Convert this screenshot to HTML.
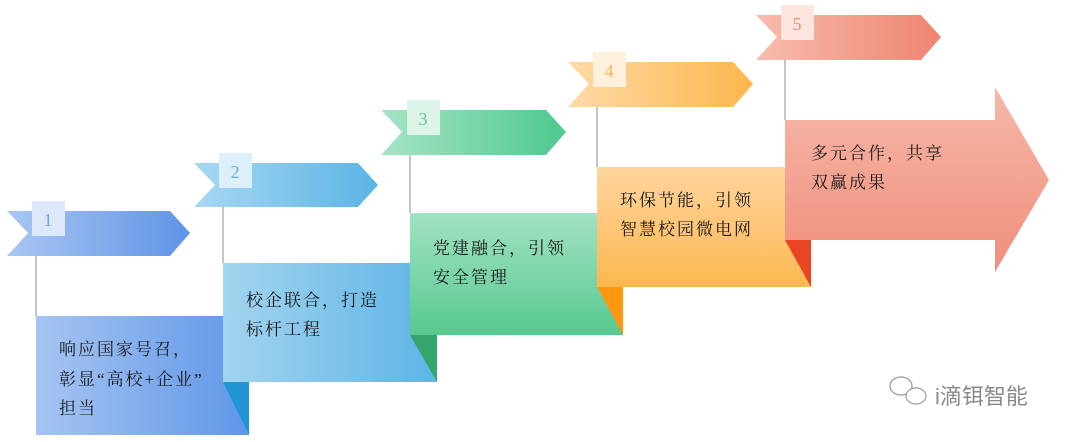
<!DOCTYPE html>
<html><head><meta charset="utf-8"><style>
html,body{margin:0;padding:0;background:#fff;}
svg{display:block}
.t{font-family:"Liberation Serif","Noto Serif CJK SC",serif;font-size:17px;letter-spacing:2px;fill:#1a1a1a;}
.n{font-family:"Liberation Serif","Noto Serif CJK SC",serif;font-size:18px;}
</style></head><body>
<svg width="1080" height="442" viewBox="0 0 1080 442" xmlns="http://www.w3.org/2000/svg">
<defs>
<linearGradient id="b1" x1="0" x2="1"><stop offset="0" stop-color="#aac6f3"/><stop offset="1" stop-color="#5e94e6"/></linearGradient>
<linearGradient id="b2" x1="0" x2="1"><stop offset="0" stop-color="#a8d8f1"/><stop offset="1" stop-color="#5ab4e6"/></linearGradient>
<linearGradient id="b3" x1="0" x2="1"><stop offset="0" stop-color="#a6e4c6"/><stop offset="1" stop-color="#4ec88e"/></linearGradient>
<linearGradient id="b4" x1="0" x2="1"><stop offset="0" stop-color="#fedaa6"/><stop offset="1" stop-color="#fdb64c"/></linearGradient>
<linearGradient id="b5" x1="0" x2="1"><stop offset="0" stop-color="#f8bcae"/><stop offset="1" stop-color="#ee8470"/></linearGradient>
<linearGradient id="g1" x1="0" x2="1"><stop offset="0" stop-color="#a6c4f2"/><stop offset="1" stop-color="#5f97e8"/></linearGradient>
<linearGradient id="g2" x1="0" x2="1"><stop offset="0" stop-color="#a2d4ef"/><stop offset="1" stop-color="#5fb4e6"/></linearGradient>
<linearGradient id="g3" x1="0" x2="0" y1="0" y2="1"><stop offset="0" stop-color="#a2e2c4"/><stop offset="1" stop-color="#58c98f"/></linearGradient>
<linearGradient id="g4" x1="0" x2="0" y1="0" y2="1"><stop offset="0" stop-color="#fed59e"/><stop offset="1" stop-color="#fdb750"/></linearGradient>
<linearGradient id="g5" x1="0" x2="0" y1="0" y2="1"><stop offset="0" stop-color="#f6b8a8"/><stop offset="1" stop-color="#f08e7c"/></linearGradient>
</defs>
<g stroke="#c4c4c4" stroke-width="2">
<line x1="36" y1="250" x2="36" y2="316"/>
<line x1="223" y1="200" x2="223" y2="263"/>
<line x1="410" y1="150" x2="410" y2="213"/>
<line x1="597" y1="100" x2="597" y2="167"/>
<line x1="785" y1="55" x2="785" y2="120"/>
</g>
<rect x="36" y="316" width="213" height="119" fill="url(#g1)"/>
<polygon points="223,382 249,382 249,435" fill="#2196d2"/>
<rect x="223" y="263" width="214" height="119" fill="url(#g2)"/>
<polygon points="410,335 437,335 437,382" fill="#36a46d"/>
<rect x="410" y="213" width="213" height="122" fill="url(#g3)"/>
<polygon points="597,287 623,287 623,335" fill="#ff9810"/>
<rect x="597" y="167" width="214" height="120" fill="url(#g4)"/>
<polygon points="785,240 811,240 811,287" fill="#e84622"/>
<polygon points="785,120 995,120 995,87 1049,180 995,272 995,240 785,240" fill="url(#g5)"/>
<polygon points="7,211 170,211 190,233 170,256 7,256 28,233" fill="url(#b1)"/>
<polygon points="194,163 358,163 378,185 358,207 194,207 215,185" fill="url(#b2)"/>
<polygon points="381,110 546,110 566,132 546,155 381,155 402,132" fill="url(#b3)"/>
<polygon points="568,62 733,62 753,84 733,107 568,107 589,84" fill="url(#b4)"/>
<polygon points="756,15 921,15 941,37 921,60 756,60 777,37" fill="url(#b5)"/>
<rect x="32" y="201" width="33" height="35" fill="#dde8fb"/>
<text x="48" y="226" text-anchor="middle" class="n" fill="#6f9fe6">1</text>
<rect x="219" y="153" width="33" height="35" fill="#ddf0fa"/>
<text x="235" y="178" text-anchor="middle" class="n" fill="#5fb3e2">2</text>
<rect x="407" y="100" width="33" height="35" fill="#dcf5e8"/>
<text x="423" y="125" text-anchor="middle" class="n" fill="#5ec892">3</text>
<rect x="593" y="52" width="33" height="35" fill="#fff0dc"/>
<text x="609" y="77" text-anchor="middle" class="n" fill="#f8b450">4</text>
<rect x="781" y="5" width="33" height="35" fill="#fde6e0"/>
<text x="797" y="30" text-anchor="middle" class="n" fill="#ee8a76">5</text>
<text class="t" x="59" y="355">响应国家号召，</text>
<text class="t" x="59" y="385">彰显“高校+企业”</text>
<text class="t" x="59" y="414">担当</text>
<text class="t" x="246" y="306">校企联合，打造</text>
<text class="t" x="246" y="335">标杆工程</text>
<text class="t" x="433" y="254">党建融合，引领</text>
<text class="t" x="433" y="283">安全管理</text>
<text class="t" x="620" y="206">环保节能，引领</text>
<text class="t" x="620" y="235">智慧校园微电网</text>
<text class="t" x="811" y="159">多元合作，共享</text>
<text class="t" x="811" y="188">双赢成果</text>
<g fill="none" stroke="#9a9a9a" stroke-width="1.2">
<ellipse cx="901" cy="386" rx="11" ry="9"/>
<ellipse cx="916" cy="396" rx="10" ry="8" fill="#fff"/>
</g>
<text x="935" y="404" font-family="'Liberation Sans','Noto Sans CJK SC',sans-serif" font-size="22" fill="#8a8a8a">i滴铒智能</text>
</svg>
</body></html>
